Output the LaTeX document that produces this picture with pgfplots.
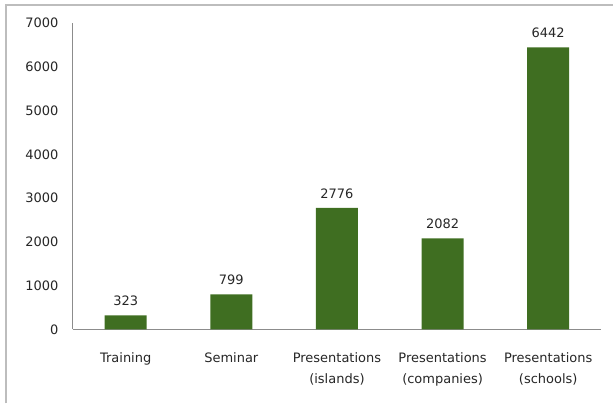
\documentclass[border=0pt]{standalone}
\usepackage{fontspec}
\setmainfont{DejaVu Sans}
\usepackage{pgfplots}
\pgfplotsset{compat=1.18}
\definecolor{bargreen}{HTML}{3F6E21}
\definecolor{axisgray}{HTML}{8C8C8C}
\definecolor{framegray}{HTML}{BDBDBD}
\begin{document}
\fontsize{13pt}{20.5pt}\selectfont
\begin{tikzpicture}
\path (0pt,0pt) rectangle (614pt,-404pt);
\draw[framegray, line width=2pt] (6pt,-404pt) -- (6pt,-5pt) -- (614pt,-5pt);
\begin{axis}[
  at={(73pt,-330pt)}, anchor=south west,
  scale only axis, width=529pt, height=307pt,
  xmin=-0.5, xmax=4.5, ymin=0, ymax=7000,
  axis x line=bottom, axis y line=left,
  axis line style={-, axisgray, line width=1pt},
  ytick={0,1000,...,7000},
  xtick={0,1,2,3,4},
  xticklabels={Training, Seminar, {Presentations\\(islands)}, {Presentations\\(companies)}, {Presentations\\(schools)}},
  xticklabel style={align=center, text=black!85, font={\fontsize{13pt}{20.5pt}\selectfont}, yshift=-19pt},
  yticklabel style={text=black!85, xshift=-10pt},
  major tick length=0pt,
  /pgf/number format/assume math mode=true,
  /pgf/number format/1000 sep={},
  ybar, bar width=42pt,
  nodes near coords,
  nodes near coords style={text=black!85, yshift=5pt, /pgf/number format/1000 sep={}},
  clip=false,
]
\addplot[fill=bargreen, draw=none] coordinates {(0,323) (1,799) (2,2776) (3,2082) (4,6442)};
\end{axis}
\end{tikzpicture}
\end{document}
